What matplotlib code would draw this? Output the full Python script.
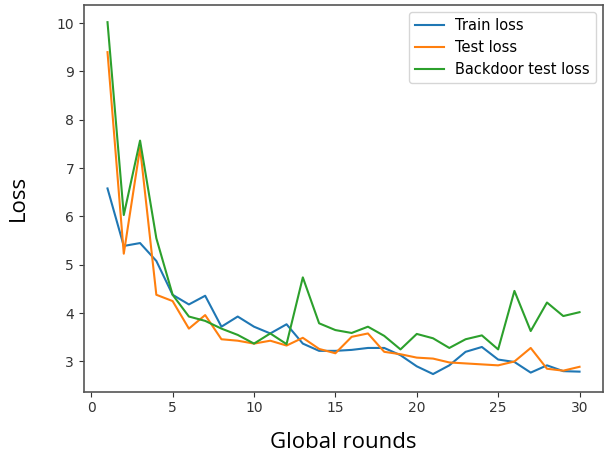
import matplotlib
matplotlib.use("Agg")
import matplotlib.pyplot as plt

# per-round loss values
rounds = list(range(1, 31))
train_loss = [6.58, 5.39, 5.45, 5.08, 4.38, 4.18, 4.36, 3.72, 3.93, 3.72,
              3.58, 3.77, 3.37, 3.22, 3.22, 3.24, 3.28, 3.28, 3.13, 2.90,
              2.74, 2.92, 3.20, 3.30, 3.04, 2.99, 2.77, 2.92, 2.80, 2.79]
test_loss = [9.40, 5.23, 7.42, 4.38, 4.25, 3.68, 3.96, 3.46, 3.43, 3.37,
             3.43, 3.33, 3.49, 3.26, 3.17, 3.51, 3.58, 3.20, 3.15, 3.08,
             3.06, 2.98, 2.96, 2.94, 2.92, 3.00, 3.28, 2.85, 2.81, 2.89]
backdoor_loss = [10.02, 6.03, 7.57, 5.55, 4.38, 3.93, 3.84, 3.68, 3.55, 3.37,
                 3.58, 3.36, 4.74, 3.79, 3.65, 3.59, 3.72, 3.53, 3.25, 3.57,
                 3.48, 3.28, 3.46, 3.54, 3.25, 4.46, 3.63, 4.22, 3.94, 4.02]

fig = plt.figure(figsize=(6.08, 4.57), dpi=100)
ax = fig.add_axes([0.138, 0.143, 0.854, 0.847])

ax.plot(rounds, train_loss, label="Train loss")
ax.plot(rounds, test_loss, label="Test loss")
ax.plot(rounds, backdoor_loss, label="Backdoor test loss")

for sp in ax.spines.values():
    sp.set_color("#555555")
    sp.set_linewidth(1.2)

ax.set_xticks([0, 5, 10, 15, 20, 25, 30])
ax.set_yticks([3, 4, 5, 6, 7, 8, 9, 10])
ax.tick_params(labelsize=10, colors="#333333")

ax.set_xlabel("Global rounds", fontsize=16, family="Open Sans", labelpad=12)
ax.set_ylabel("Loss", fontsize=16, family="Open Sans", labelpad=20)

ax.legend(loc="upper right", fontsize=10.5)

fig.savefig("out.png", dpi=100)
